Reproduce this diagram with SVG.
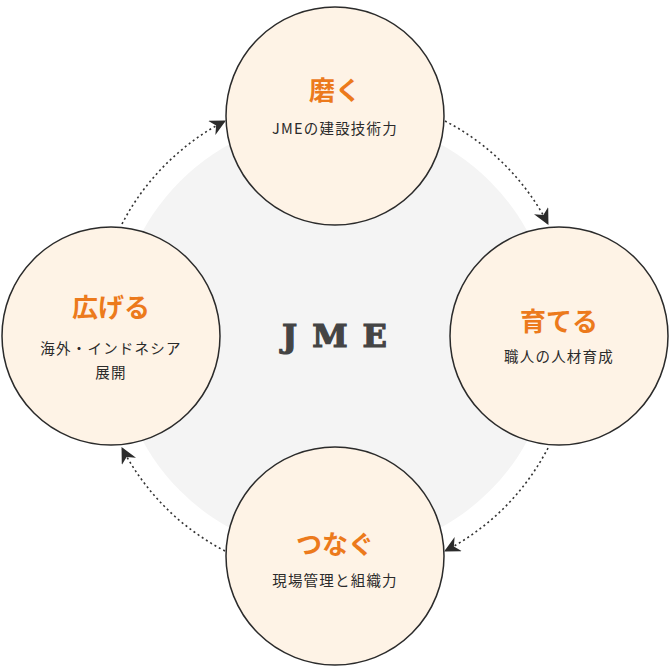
<svg xmlns="http://www.w3.org/2000/svg" width="670" height="670" viewBox="0 0 670 670">
<defs>
<style>
.node circle{fill:#fef3e6;stroke:#2b2b2b;stroke-width:1.5}
.ttl{font-family:"Noto Sans CJK JP",sans-serif;font-weight:700;font-size:26px;fill:#ec7a1c;text-anchor:middle}
.sub{font-family:"Noto Sans CJK JP",sans-serif;font-size:14.5px;fill:#2a2a2a;text-anchor:middle;letter-spacing:1.2px}
.conn path{fill:none;stroke:#333;stroke-width:1.6;stroke-dasharray:2 3}
</style>
<marker id="ah" viewBox="0 0 16 16" refX="15" refY="8" markerWidth="16" markerHeight="16" markerUnits="userSpaceOnUse" orient="auto">
<path d="M0,0 L16,8 L0,16 L5,8 Z" fill="#2b2b2b"/>
</marker>
</defs>
<rect width="670" height="670" fill="#fff"/>
<circle cx="335" cy="336" r="219" fill="#f4f4f4"/>
<text x="342" y="347" font-family="DejaVu Serif, serif" font-weight="700" font-size="32" fill="#444" stroke="#444" stroke-width="1.2" text-anchor="middle" letter-spacing="15">JME</text>
<g class="conn">
<path d="M445,121 A241,241 0 0 1 548,224" marker-end="url(#ah)"/>
<path d="M548,448 A241,241 0 0 1 445,551" marker-end="url(#ah)"/>
<path d="M225,551 A241,241 0 0 1 122,448" marker-end="url(#ah)"/>
<path d="M122,224 A241,241 0 0 1 225,121" marker-end="url(#ah)"/>
</g>
<g id="migaku" class="node">
<circle cx="335" cy="116" r="109"/>
<text class="ttl" x="335" y="100">磨く</text>
<text class="sub" x="335" y="134">JMEの建設技術力</text>
</g>
<g id="sodateru" class="node">
<circle cx="559" cy="336" r="109"/>
<text class="ttl" x="559" y="331">育てる</text>
<text class="sub" x="559" y="362">職人の人材育成</text>
</g>
<g id="tsunagu" class="node">
<circle cx="335" cy="556" r="109"/>
<text class="ttl" x="335" y="554">つなぐ</text>
<text class="sub" x="335" y="586">現場管理と組織力</text>
</g>
<g id="hirogeru" class="node">
<circle cx="111" cy="336" r="109"/>
<text class="ttl" x="111" y="317">広げる</text>
<text class="sub" x="111" y="354">海外・インドネシア</text>
<text class="sub" x="111" y="378">展開</text>
</g>
</svg>
